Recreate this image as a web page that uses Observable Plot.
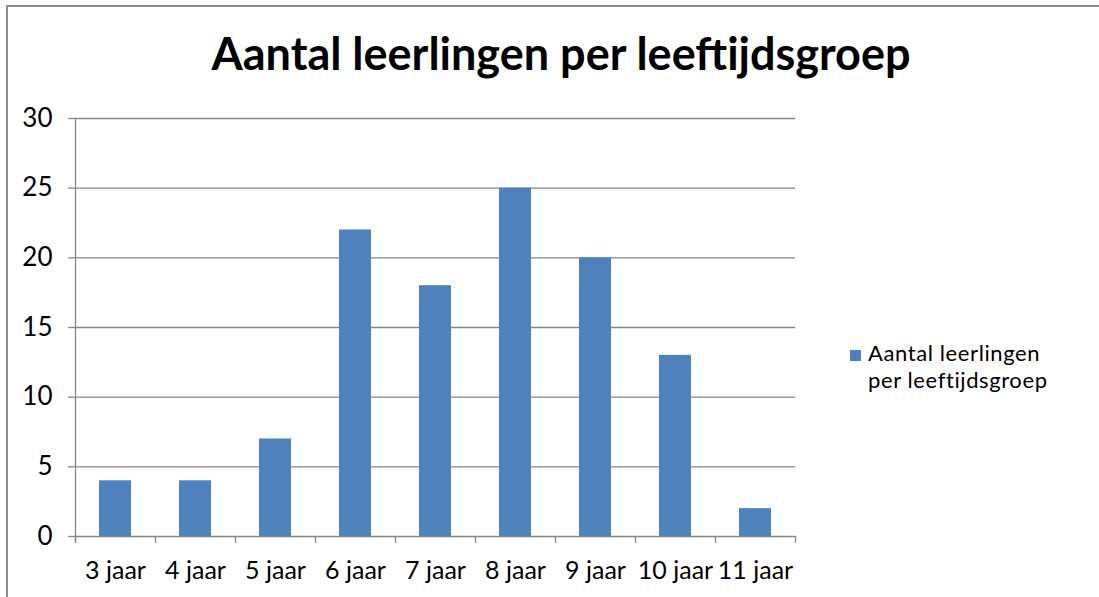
<!DOCTYPE html>
<html>
<head>
<meta charset="utf-8">
<script src="https://cdn.jsdelivr.net/npm/d3@7"></script>
<script src="https://cdn.jsdelivr.net/npm/@observablehq/plot@0.6"></script>
<style>
  html, body { margin: 0; padding: 0; background: #fff; overflow: hidden; }
  #wrap { position: relative; width: 1099px; height: 597px; font-family: Lato, "Open Sans", sans-serif; }
  #frame { position: absolute; left: 6px; top: 5px; width: 1200px; height: 700px; border-left: 2px solid #8c8c8c; border-top: 2px solid #8c8c8c; }
  #title { position: absolute; left: 0; width: 1122px; top: 26px; text-align: center; font-size: 45px; line-height: 54px; font-weight: bold; color: #000; white-space: nowrap; }
  #legend { position: absolute; left: 850px; top: 339px; font-size: 22px; letter-spacing: 0.6px; color: #000; white-space: nowrap; }
  #legend .sw { position: absolute; left: 0; top: 11px; width: 11px; height: 11px; background: #4F81BD; }
  #legend .ln { margin-left: 18px; height: 27px; line-height: 27px; }
  #chart { position: absolute; left: 0; top: 0; }
</style>
</head>
<body>
<div id="wrap">
  <div id="frame"></div>
  <div id="chart"></div>
  <div id="title">Aantal leerlingen per leeftijdsgroep</div>
  <div id="legend"><div class="sw"></div><div class="ln">Aantal leerlingen</div><div class="ln">per leeftijdsgroep</div></div>
</div>
<script>
const categories = ["3 jaar", "4 jaar", "5 jaar", "6 jaar", "7 jaar", "8 jaar", "9 jaar", "10 jaar", "11 jaar"];
const values = [4, 4, 7, 22, 18, 25, 20, 13, 2];
const yTicks = [0, 5, 10, 15, 20, 25, 30];

const data = categories.map((c, i) => ({cat: c, value: values[i]}));
const gridColor = "#868686";

const chart = Plot.plot({
  width: 1099,
  height: 597,
  marginLeft: 75,
  marginRight: 304,
  marginTop: 118,
  marginBottom: 61,
  style: {fontFamily: "Lato, 'Open Sans', sans-serif", fontSize: "25px", color: "#000", background: "transparent"},
  x: {domain: categories, padding: 0},
  y: {domain: [0, 30]},
  marks: [
    Plot.ruleY(yTicks, {stroke: gridColor, strokeWidth: 1.3}),
    Plot.rectY(data, {x: "cat", y: "value", fill: "#4F81BD", insetLeft: 24, insetRight: 24}),
    Plot.ruleX([categories[0]], {dx: -40, stroke: gridColor, strokeWidth: 1.3, insetBottom: -7}),
    Plot.ruleX(categories, {x: d => d, y1: 0, y2: 0, dx: -40, insetBottom: -7, stroke: gridColor, strokeWidth: 1.3}),
    Plot.ruleX([categories[categories.length - 1]], {y1: 0, y2: 0, dx: 40, insetBottom: -7, stroke: gridColor, strokeWidth: 1.3}),
    Plot.axisY({ticks: yTicks, tickSize: 7, tickPadding: 16, stroke: gridColor, strokeWidth: 1.3, label: null, fill: "#000", fontSize: 26}),
    Plot.axisX({tickSize: 0, tickPadding: 25, label: null, fill: "#000", fontSize: 25})
  ]
});
document.getElementById("chart").appendChild(chart);
</script>
</body>
</html>
